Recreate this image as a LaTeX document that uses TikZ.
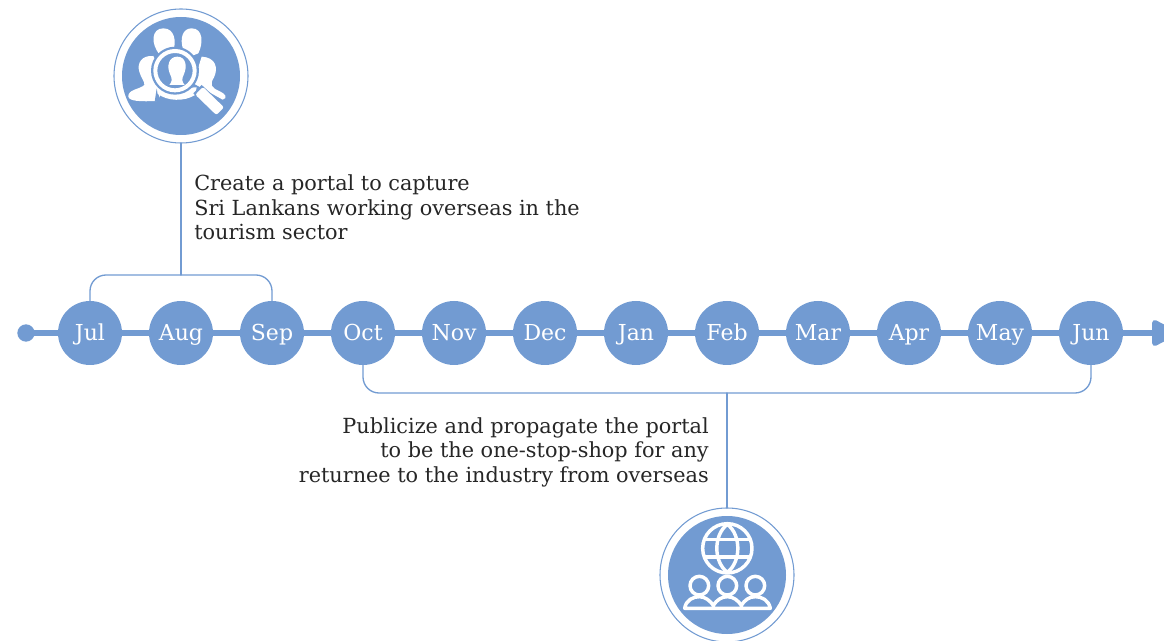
\documentclass[tikz,border=0pt]{standalone}
\usepackage{fontspec}
\setmainfont{DejaVu Serif}
\usepackage{tikz}
\usetikzlibrary{arrows.meta}
\definecolor{steel}{RGB}{114,155,210}
\tikzset{
month/.style={circle, fill=steel, text=white, minimum size=48pt, inner sep=0pt, outer sep=0pt, text height=14pt, text depth=2pt, font=\fontsize{16.5}{18}\selectfont},
note/.style={font=\fontsize{15.6}{18.4}\selectfont, inner sep=0pt, text=black!85},
ring/.style={circle, draw=steel, line width=0.8pt, minimum size=100.5pt, inner sep=0pt, outer sep=0pt},
link/.style={draw=steel, line width=1pt, rounded corners=12pt},
timeline/.style={draw=steel, line width=3.9pt},
badge/.style={fill=steel, draw=none},
glyph/.style={fill=white, draw=none},
wire/.style={draw=white, line width=2.6pt, line join=round}
}
\begin{document}
\begin{tikzpicture}[x=0.75pt, y=-0.75pt, >=stealth, line cap=round]
\useasboundingbox (0,0) rectangle (1164,641);
\node [circle, fill=steel, minimum size=13pt, inner sep=0pt, outer sep=0pt] (start) at (26,333) {};
\coordinate (tip) at (1177,333);
\foreach \m [count=\i from 0] in {Jul,Aug,Sep,Oct,Nov,Dec,Jan,Feb,Mar,Apr,May,Jun}
{   \node [month] (\m) at ({90+91*\i},333) {\m};
}
\draw [timeline] (start) -- (Jul);
\draw [timeline] (Jul) -- (Aug);
\draw [timeline] (Aug) -- (Sep);
\draw [timeline] (Sep) -- (Oct);
\draw [timeline] (Oct) -- (Nov);
\draw [timeline] (Nov) -- (Dec);
\draw [timeline] (Dec) -- (Jan);
\draw [timeline] (Jan) -- (Feb);
\draw [timeline] (Feb) -- (Mar);
\draw [timeline] (Mar) -- (Apr);
\draw [timeline] (Apr) -- (May);
\draw [timeline] (May) -- (Jun);
\draw [timeline, -{Triangle[round, length=21pt, width=21pt]}, line cap=butt] (Jun) -- (tip);

\node [ring] (search) at (181,76) {};
\node [ring] (globe) at (727,575) {};
\fill [badge] (search) circle (59);
\fill [badge] (globe) circle (59);

\coordinate (upper) at (181,275);
\coordinate (lower) at (727,393);
\draw [link] (Jul.north) -- (90,275) -- (272,275) -- (Sep.north);
\draw [link, rounded corners=0pt] (search.south) -- (upper);
\draw [link] (Oct.south) -- (363,393) -- (1091,393) -- (Jun.south);
\draw [link, rounded corners=0pt] (lower) -- (globe.north);

\node [note, anchor=west, align=left] (plan) at (194,207.5) {Create a portal to capture\\Sri Lankans working overseas in the\\tourism sector};
\node [note, anchor=east, align=right] (promote) at (709,452) {Publicize and propagate the portal\\to be the one-stop-shop for any\\returnee to the industry from overseas};

% people under a lens
\begin{scope}[shift={(100,0)}, x=0.25pt, y=-0.25pt]
\fill [glyph] (180,165) .. controls (150,130) and (155,85) .. (190,85) .. controls (225,85) and (228,125) .. (221,150) -- (200,170) -- cycle;
\fill [glyph] (250,150) .. controls (238,115) and (248,85) .. (275,85) .. controls (310,85) and (310,130) .. (295,160) -- (270,170) -- cycle;
\fill [glyph] (160,168) .. controls (125,165) and (110,190) .. (118,215) .. controls (123,235) and (135,245) .. (133,255) .. controls (120,268) and (83,268) .. (85,290) .. controls (88,304) and (120,305) .. (172,303) -- (200,250) -- cycle;
\fill [glyph] (305,170) .. controls (348,172) and (355,205) .. (342,232) .. controls (328,255) and (335,262) .. (355,272) .. controls (378,282) and (385,294) .. (368,299) -- (280,250) -- cycle;
\fill [badge] (164,305) -- (170,266) -- (182,305) -- cycle;
\fill [glyph] (172,268) -- (290,262) -- (285,285) .. controls (255,305) and (200,305) .. (172,280) -- cycle;
\fill [badge] (225,212) circle (72);
\draw [white, line width=3pt] (225,212) circle (59);
\fill [badge] (305,255) -- (280,280) -- (348,350) -- (378,322) -- cycle;
\fill [glyph, rounded corners=1.5pt] (309,261) -- (286,284) -- (349,345) -- (372,322) -- cycle;
\fill [glyph] (232,170) .. controls (205,170) and (200,200) .. (210,222) .. controls (218,238) and (216,245) .. (208,255) -- (254,255) .. controls (246,245) and (244,238) .. (252,222) .. controls (262,200) and (258,170) .. (232,170) -- cycle;
\end{scope}

% globe over three people
\begin{scope}[shift={(650,500)}, x=0.25pt, y=-0.25pt]
\draw [wire] (232,145) circle (74);
\draw [wire] (232,73) .. controls (190,105) and (190,185) .. (232,217);
\draw [wire] (232,73) .. controls (274,105) and (274,185) .. (232,217);
\draw [wire] (167,119) -- (297,119);
\draw [wire] (167,171) -- (297,171);
\foreach \p in {148,232,316}
{   \draw [wire] (\p,257) circle (28);
}
\draw [wire] (104,325) .. controls (108,300) and (130,290) .. (148,290) .. controls (165,290) and (180,302) .. (190,316) .. controls (200,300) and (215,290) .. (232,290) .. controls (250,290) and (265,302) .. (274,316) .. controls (284,300) and (298,290) .. (316,290) .. controls (335,290) and (356,300) .. (361,325) -- cycle;
\end{scope}
\end{tikzpicture}
\end{document}
